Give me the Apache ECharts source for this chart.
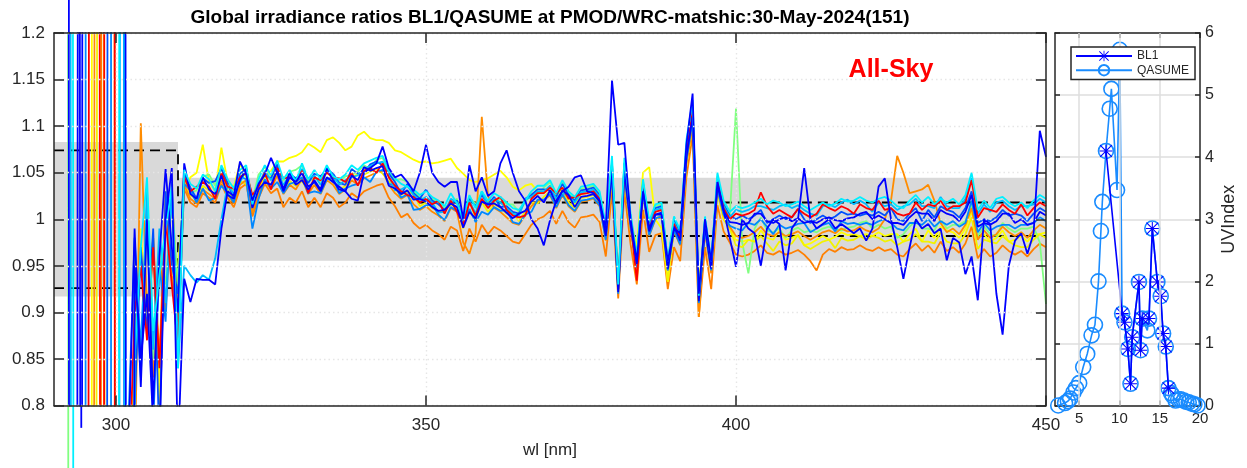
<!DOCTYPE html>
<html>
<head>
<meta charset="utf-8">
<script src="https://cdn.jsdelivr.net/npm/echarts@6.0.0/dist/echarts.min.js"></script>
<style>
  html, body { margin: 0; padding: 0; background: #ffffff; }
  #chart { width: 1247px; height: 468px; }
</style>
</head>
<body>
<div id="chart"></div>
<script>
// Wavelength grid of the ratio spectra, 1 nm steps
const wl = [];
for (let w = 292; w <= 450; w++) wl.push(w);

// Tick positions
const wlTicks = [300, 350, 400, 450];
const wlGrid = [300, 350, 400];
const uvTicks = [5, 10, 15, 20];
const uvGrid = [5, 10, 15];

// BL1/QASUME ratio spectra, one per scan (292..450 nm)
const ratioOrangeA = [
  -3, -3, -3, -3, -3, -3, 3.67, -49.7, -3, -3,
  -3, 0.97, 0.84, 1.00, 0.83, 0.96, 0.90, 1.03, 0.91,
  1.033, 1.018, 1.013, 1.028, 1.023, 1.018, 1.038, 1.023, 1.013, 1.033,
  1.038, 1.003, 1.023, 1.038, 1.028, 1.033, 1.013, 1.023, 1.018, 1.030,
  1.013, 1.023, 1.013, 1.028, 1.023, 1.013, 1.018, 1.028, 1.023, 1.030,
  1.033, 1.036, 1.038, 1.023, 1.014, 1.002, 1.006, 0.996, 0.990, 0.994,
  0.988, 0.984, 0.978, 0.992, 0.988, 0.966, 0.990, 0.976, 0.994, 0.984,
  0.992, 0.988, 0.982, 0.976, 0.974, 0.984, 0.994, 1.000, 1.003, 1.009,
  0.995, 1.009, 0.997, 0.991, 1.002, 1.003, 1.005, 0.997, 0.960, 1.030,
  0.915, 1.030, 0.973, 0.930, 1.010, 0.965, 0.983, 0.985, 0.925, 0.970,
  0.955, 1.045, 1.090, 0.895, 0.970, 0.925, 1.015, 0.987, 0.975,
  0.962, 0.960, 0.962, 0.966, 0.972, 0.964, 0.962, 0.966, 0.962, 0.964,
  0.967, 0.962, 0.955, 0.945, 0.962, 0.968, 0.965, 0.970, 0.967, 0.968,
  0.972, 0.968, 0.966, 0.970, 0.966, 0.968, 0.962, 0.960, 0.968, 0.974,
  0.966, 0.972, 0.964, 0.976, 0.966, 0.970, 0.964, 0.974, 0.992, 0.958,
  0.968, 0.960, 0.964, 0.972, 0.966, 0.962, 0.966, 0.960, 0.968, 0.974,
  0.970
];
const ratioYellowA = [
  -3, -3, -3, -3, -3, 37, -53, -53, -53, -53,
  0.72, 0.86, 0.99, 0.88, 0.97, 0.82, 1.03, 0.95, 0.95,
  1.030, 1.045, 1.050, 1.080, 1.040, 1.030, 1.077, 1.040, 1.035, 1.060,
  1.045, 1.010, 1.040, 1.045, 1.052, 1.062, 1.062, 1.066, 1.068, 1.072,
  1.081, 1.077, 1.072, 1.085, 1.088, 1.082, 1.074, 1.078, 1.090, 1.094,
  1.087, 1.085, 1.085, 1.082, 1.074, 1.072, 1.068, 1.064, 1.061, 1.062,
  1.060, 1.061, 1.063, 1.065, 1.055, 1.049, 1.042, 1.040, 1.042, 1.044,
  1.048, 1.052, 1.045, 1.035, 1.031, 1.036, 1.038, 1.030, 1.028, 1.034,
  1.020, 1.034, 1.022, 1.016, 1.027, 1.028, 1.030, 1.022, 0.985, 1.050,
  0.930, 1.050, 1.000, 0.970, 1.050, 1.056, 1.000, 0.990, 0.933, 0.990,
  0.975, 1.060, 1.100, 0.930, 0.990, 0.945, 1.030, 1.000, 0.990,
  0.978, 0.976, 0.978, 0.976, 0.988, 0.980, 0.978, 0.988, 0.978, 0.980,
  0.983, 0.972, 0.974, 0.978, 0.982, 0.978, 0.981, 0.986, 0.983, 0.984,
  0.982, 0.984, 0.982, 0.986, 0.982, 0.984, 0.984, 0.976, 0.984, 0.990,
  0.976, 0.988, 0.980, 0.992, 0.988, 0.986, 0.980, 0.990, 1.008, 0.980,
  0.984, 0.976, 0.980, 0.988, 0.976, 0.978, 0.982, 0.976, 0.984, 0.984,
  0.986
];
const ratioGreen = [
  4, -6, -6, -6, -6, -6, -6, -6, -6, -6,
  -6, 0.95, 0.86, 0.99, 0.85, 0.97, 0.93, 1.02, 0.93,
  1.051, 1.028, 1.031, 1.046, 1.048, 1.036, 1.056, 1.034, 1.031, 1.043,
  1.056, 1.021, 1.048, 1.056, 1.046, 1.052, 1.041, 1.051, 1.053, 1.058,
  1.041, 1.044, 1.041, 1.056, 1.044, 1.041, 1.046, 1.048, 1.051, 1.058,
  1.054, 1.064, 1.066, 1.051, 1.042, 1.043, 1.040, 1.030, 1.024, 1.020,
  1.022, 1.018, 1.012, 1.018, 1.022, 1.000, 1.024, 1.016, 1.028, 1.018,
  1.018, 1.022, 1.016, 1.016, 1.008, 1.018, 1.028, 1.026, 1.034, 1.040,
  1.026, 1.040, 1.028, 1.022, 1.033, 1.034, 1.036, 1.028, 0.991, 1.061,
  0.930, 1.061, 1.004, 0.960, 1.041, 0.996, 1.014, 1.016, 0.955, 1.001,
  0.986, 1.076, 1.121, 0.921, 1.001, 0.955, 1.046, 1.018, 1.004,
  1.119, 0.975, 0.942, 0.990, 1.002, 0.988, 0.986, 0.990, 0.980, 0.988,
  0.991, 0.986, 0.988, 0.986, 0.990, 0.992, 0.989, 0.988, 0.991, 0.992,
  0.996, 0.998, 0.990, 0.994, 0.990, 0.992, 0.980, 0.984, 0.992, 0.998,
  0.990, 0.990, 0.988, 1.000, 0.990, 0.994, 0.994, 0.998, 1.016, 0.982,
  0.992, 0.984, 0.982, 0.996, 0.990, 0.986, 0.990, 0.990, 0.992, 0.975,
  0.909
];
const ratioYellowB = [
  -3, -3, -3, -3, -3, 1.44, 1.44, -2.96, -3, -3,
  0.60, 0.83, 0.97, 0.90, 0.98, 0.79, 1.00, 0.96, 0.90,
  1.041, 1.026, 1.021, 1.036, 1.031, 1.026, 1.053, 1.031, 1.021, 1.041,
  1.038, 1.011, 1.031, 1.046, 1.043, 1.051, 1.031, 1.041, 1.036, 1.041,
  1.031, 1.041, 1.031, 1.053, 1.041, 1.031, 1.036, 1.046, 1.048, 1.048,
  1.051, 1.054, 1.049, 1.041, 1.032, 1.026, 1.030, 1.027, 1.014, 1.018,
  1.012, 1.008, 1.009, 1.016, 1.012, 0.990, 1.021, 1.000, 1.018, 1.008,
  1.016, 1.012, 1.006, 1.007, 0.998, 1.008, 1.018, 1.017, 1.024, 1.030,
  1.016, 1.030, 1.018, 1.012, 1.023, 1.024, 1.026, 1.018, 0.981, 1.045,
  0.935, 1.045, 0.990, 0.945, 1.030, 0.985, 1.000, 1.005, 0.933, 0.990,
  0.975, 1.060, 1.100, 0.930, 0.985, 0.950, 1.030, 1.000, 0.990,
  0.972, 0.970, 0.978, 0.976, 0.982, 0.974, 0.966, 0.976, 0.972, 0.974,
  0.983, 0.972, 0.968, 0.972, 0.976, 0.978, 0.969, 0.980, 0.977, 0.978,
  0.982, 0.978, 0.982, 0.980, 0.976, 0.978, 0.972, 0.976, 0.978, 0.984,
  0.976, 0.976, 0.974, 0.986, 0.976, 0.974, 0.974, 0.984, 1.002, 0.968,
  0.978, 0.976, 0.974, 0.982, 0.976, 0.972, 0.970, 0.970, 0.978, 0.984,
  0.980
];
const ratioOrangeB = [
  -3, -3, -3, -3, -3, 5, 5, 5, 0, 0,
  0.60, 0.72, 1.103, 0.90, 0.98, 0.85, 1.02, 0.94, 0.89,
  1.037, 1.022, 1.017, 1.032, 1.027, 1.022, 1.042, 1.027, 1.017, 1.037,
  1.042, 1.007, 1.027, 1.042, 1.032, 1.047, 1.027, 1.037, 1.032, 1.044,
  1.027, 1.037, 1.027, 1.042, 1.037, 1.027, 1.032, 1.042, 1.037, 1.044,
  1.047, 1.050, 1.052, 1.037, 1.028, 1.022, 1.026, 1.016, 1.010, 1.014,
  1.008, 1.004, 0.998, 1.012, 1.008, 0.975, 0.963, 0.985, 1.110, 1.025,
  1.012, 1.008, 1.002, 0.996, 0.994, 1.004, 1.014, 1.020, 1.020, 1.026,
  1.012, 1.026, 1.014, 1.008, 1.019, 1.020, 1.022, 1.014, 0.977, 1.045,
  0.925, 1.045, 0.990, 0.950, 1.027, 0.982, 1.000, 1.002, 0.945, 0.987,
  0.972, 1.060, 1.100, 0.895, 0.987, 0.942, 1.032, 1.004, 0.992,
  0.982, 0.980, 0.982, 0.986, 0.992, 0.984, 0.982, 0.986, 0.982, 0.984,
  0.987, 0.982, 0.978, 0.982, 0.986, 0.988, 0.985, 0.990, 0.987, 0.988,
  0.992, 0.988, 0.986, 0.990, 1.000, 1.020, 1.068, 1.050, 1.028, 1.030,
  1.032, 1.037, 1.020, 0.996, 0.986, 0.990, 0.984, 0.994, 1.012, 0.978,
  0.988, 0.980, 0.984, 0.992, 0.986, 0.982, 0.986, 0.980, 0.988, 0.994,
  0.990
];
const ratioLightBlue = [
  -4, -4, -4, -4, 46, 46, 46, 46, -179, -179,
  0.78, 0.98, 0.86, 1.02, 0.78, 0.95, 0.89, 1.04, 0.86,
  1.038, 1.031, 1.018, 1.033, 1.020, 1.023, 1.036, 1.028, 1.018, 1.046,
  1.043, 0.990, 1.022, 1.043, 1.033, 1.040, 1.028, 1.038, 1.040, 1.045,
  1.028, 1.030, 1.028, 1.043, 1.045, 1.028, 1.033, 1.036, 1.038, 1.045,
  1.040, 1.051, 1.053, 1.038, 1.036, 1.023, 1.027, 1.010, 1.011, 1.015,
  1.016, 1.005, 0.999, 1.013, 1.009, 0.994, 1.011, 0.997, 1.008, 1.005,
  1.013, 1.009, 1.010, 0.997, 0.995, 1.005, 1.008, 1.021, 1.021, 1.027,
  1.013, 1.027, 1.015, 1.009, 1.020, 1.021, 1.023, 1.015, 0.978, 1.048,
  0.920, 1.048, 0.991, 0.948, 1.028, 0.983, 1.001, 1.003, 0.945, 0.988,
  0.973, 1.063, 1.106, 0.910, 0.988, 0.945, 1.033, 1.005, 0.993,
  0.990, 0.988, 0.996, 0.994, 1.000, 0.992, 0.984, 0.994, 0.990, 0.992,
  0.995, 0.996, 0.986, 0.990, 0.994, 0.996, 0.987, 0.998, 0.995, 0.996,
  0.994, 0.996, 0.994, 0.998, 1.000, 0.996, 0.990, 0.988, 0.996, 0.996,
  0.994, 1.000, 0.992, 0.998, 0.994, 0.998, 0.992, 0.996, 1.020, 0.986,
  0.996, 0.988, 0.992, 0.994, 0.994, 0.990, 0.994, 0.994, 0.996, 1.002,
  0.998
];
const ratioBlueC = [
  -4, -4, -4, -4, -4, -4, -4, 4.33, 4.33, 4.33,
  -6.77, 0.80, 0.97, 0.88, 0.99, 0.76, 1.03, 0.95, 0.92,
  1.049, 1.034, 1.022, 1.044, 1.039, 1.041, 1.054, 1.039, 1.022, 1.049,
  1.054, 1.019, 1.039, 1.047, 1.044, 1.059, 1.032, 1.049, 1.044, 1.049,
  1.039, 1.049, 1.046, 1.054, 1.049, 1.039, 1.037, 1.054, 1.049, 1.050,
  1.059, 1.062, 1.058, 1.049, 1.040, 1.027, 1.038, 1.028, 1.022, 1.032,
  1.020, 1.016, 1.010, 1.017, 1.020, 0.998, 1.022, 1.014, 1.026, 1.016,
  1.024, 1.013, 1.014, 1.008, 1.006, 1.022, 1.026, 1.032, 1.032, 1.031,
  1.024, 1.038, 1.026, 1.020, 1.031, 1.032, 1.034, 1.026, 0.989, 1.060,
  0.928, 1.060, 1.002, 0.958, 1.039, 0.994, 1.012, 1.014, 0.953, 0.999,
  0.984, 1.076, 1.120, 0.917, 0.999, 0.953, 1.044, 1.016, 1.004,
  1.000, 1.004, 1.000, 1.004, 1.010, 0.996, 1.000, 1.004, 1.000, 1.002,
  1.011, 1.000, 0.996, 1.000, 1.004, 1.000, 1.003, 1.008, 1.005, 1.006,
  1.004, 1.006, 1.004, 1.008, 1.004, 1.012, 1.000, 0.998, 1.006, 1.012,
  0.998, 1.010, 1.002, 1.014, 1.010, 1.008, 1.002, 1.012, 1.030, 0.996,
  1.000, 0.998, 1.002, 1.010, 1.004, 1.006, 1.004, 0.998, 1.006, 1.012,
  1.008
];
const ratioSky = [
  8, -2, -2, -2, -2, -2, -2, -2, -2, 3,
  -3, 0.94, 0.83, 1.03, 0.86, 0.99, 0.91, 1.03, 0.84,
  0.950, 0.940, 0.932, 0.940, 0.935, 0.958, 1.000, 1.037, 1.027, 1.040,
  1.052, 1.017, 1.037, 1.052, 1.042, 1.050, 1.037, 1.047, 1.042, 1.054,
  1.044, 1.047, 1.037, 1.052, 1.047, 1.037, 1.042, 1.045, 1.047, 1.054,
  1.057, 1.060, 1.062, 1.047, 1.031, 1.032, 1.036, 1.026, 1.020, 1.024,
  1.018, 1.007, 1.008, 1.022, 1.018, 0.996, 1.020, 1.006, 1.030, 1.014,
  1.022, 1.018, 1.012, 1.006, 1.004, 1.021, 1.024, 1.030, 1.030, 1.036,
  1.022, 1.029, 1.024, 1.018, 1.029, 1.030, 1.032, 1.024, 0.987, 1.058,
  0.926, 1.058, 1.000, 0.957, 1.037, 0.992, 1.010, 1.012, 0.951, 0.997,
  0.982, 1.073, 1.118, 0.916, 0.997, 0.951, 1.042, 1.014, 1.002,
  1.010, 1.008, 1.010, 1.014, 1.014, 1.012, 1.010, 1.014, 1.016, 1.012,
  1.015, 1.010, 1.006, 1.004, 1.014, 1.016, 1.013, 1.018, 1.021, 1.016,
  1.020, 1.016, 1.008, 1.018, 1.014, 1.016, 1.010, 1.014, 1.016, 1.022,
  1.014, 1.014, 1.012, 1.024, 1.014, 1.012, 1.012, 1.022, 1.044, 1.006,
  1.016, 1.008, 1.018, 1.020, 1.014, 1.010, 1.014, 1.014, 1.016, 1.022,
  1.018
];
const ratioRed = [
  -3, -3, -3, -3, 3.67, 3.67, -3, 37, -8, -8,
  0.70, 0.90, 0.95, 0.87, 0.97, 0.84, 1.00, 0.93, 0.863,
  1.045, 1.030, 1.035, 1.040, 1.035, 1.022, 1.050, 1.035, 1.033, 1.045,
  1.050, 1.026, 1.035, 1.050, 1.032, 1.055, 1.044, 1.045, 1.040, 1.052,
  1.028, 1.045, 1.042, 1.050, 1.045, 1.044, 1.040, 1.050, 1.036, 1.052,
  1.055, 1.050, 1.060, 1.045, 1.036, 1.030, 1.026, 1.024, 1.018, 1.022,
  1.016, 1.020, 1.006, 1.020, 1.008, 0.994, 1.018, 1.004, 1.022, 1.012,
  1.020, 1.024, 1.010, 1.004, 1.002, 1.004, 1.022, 1.028, 1.028, 1.034,
  1.028, 1.034, 1.022, 1.024, 1.027, 1.028, 1.030, 1.022, 0.985, 1.055,
  0.925, 1.055, 0.998, 0.934, 1.035, 0.990, 1.008, 1.010, 0.950, 0.995,
  0.980, 1.070, 1.115, 0.915, 0.995, 0.950, 1.040, 1.012, 1.000,
  1.006, 1.004, 1.006, 1.010, 1.029, 1.014, 1.006, 1.010, 1.006, 1.002,
  1.011, 1.006, 1.002, 1.006, 1.016, 1.012, 1.009, 1.014, 1.011, 1.006,
  1.016, 1.012, 1.010, 1.020, 1.010, 1.012, 1.006, 1.004, 1.006, 1.018,
  1.010, 1.016, 1.014, 1.020, 1.010, 1.014, 1.014, 1.018, 1.042, 1.002,
  1.012, 1.010, 1.008, 1.016, 1.010, 1.006, 1.016, 1.004, 1.012, 1.018,
  1.014
];
const ratioBlueB = [
  -4, -4, 2.25, -4, -4, -4, -4, -4, -4, -4,
  0.75, 0.99, 0.82, 1.00, 0.80, 0.96, 1.054, 0.97, 0.90,
  1.060, 1.027, 1.022, 1.045, 1.032, 1.027, 1.047, 1.026, 1.022, 1.042,
  1.054, 1.012, 1.032, 1.040, 1.037, 1.052, 1.032, 1.050, 1.037, 1.042,
  1.032, 1.042, 1.032, 1.055, 1.042, 1.032, 1.030, 1.047, 1.042, 1.056,
  1.052, 1.055, 1.057, 1.036, 1.033, 1.027, 1.031, 1.021, 1.022, 1.019,
  1.013, 1.009, 1.010, 1.017, 1.013, 0.991, 1.008, 1.001, 1.019, 1.016,
  1.017, 1.013, 1.007, 1.001, 1.006, 1.009, 1.019, 1.025, 1.018, 1.031,
  1.017, 1.031, 1.026, 1.013, 1.024, 1.025, 1.027, 1.019, 0.982, 1.052,
  0.922, 1.052, 0.995, 0.952, 1.032, 0.987, 1.005, 1.007, 0.947, 0.992,
  0.977, 1.067, 1.110, 0.912, 0.992, 0.947, 1.037, 1.009, 0.997,
  0.996, 0.994, 0.996, 1.006, 1.006, 0.998, 0.996, 1.000, 1.002, 0.998,
  1.001, 0.996, 0.998, 0.996, 1.000, 1.002, 0.999, 0.998, 1.001, 1.002,
  1.006, 1.008, 1.000, 1.004, 1.000, 0.996, 0.996, 0.994, 1.002, 1.008,
  1.006, 1.006, 0.998, 1.010, 1.006, 1.004, 0.998, 1.008, 1.026, 0.992,
  0.996, 0.994, 0.998, 1.006, 1.006, 0.996, 1.000, 0.994, 0.996, 1.008,
  1.004
];
const ratioCyan = [
  1.5, 1.5, -4, -4, -4, -4, -4, -4, -4, 6,
  -4, 0.85, 0.97, 1.045, 0.88, 0.94, 0.99, 1.035, 0.84,
  1.053, 1.038, 1.033, 1.048, 1.043, 1.030, 1.058, 1.043, 1.033, 1.053,
  1.058, 1.016, 1.043, 1.058, 1.048, 1.063, 1.043, 1.053, 1.040, 1.060,
  1.043, 1.053, 1.043, 1.058, 1.046, 1.043, 1.048, 1.058, 1.053, 1.060,
  1.063, 1.066, 1.068, 1.053, 1.044, 1.038, 1.035, 1.032, 1.026, 1.030,
  1.024, 1.020, 1.014, 1.028, 1.017, 1.002, 1.026, 1.012, 1.030, 1.020,
  1.028, 1.024, 1.018, 1.012, 1.010, 1.020, 1.030, 1.036, 1.036, 1.042,
  1.028, 1.042, 1.030, 1.024, 1.035, 1.036, 1.038, 1.030, 0.993, 1.068,
  0.930, 1.066, 1.006, 0.960, 1.043, 0.998, 1.016, 1.018, 0.955, 1.003,
  0.988, 1.085, 1.128, 0.918, 1.003, 0.955, 1.050, 1.020, 1.008,
  1.014, 1.012, 1.014, 1.018, 1.022, 1.016, 1.020, 1.018, 1.014, 1.016,
  1.019, 1.014, 1.010, 1.014, 1.018, 1.014, 1.017, 1.022, 1.019, 1.020,
  1.024, 1.020, 1.018, 1.022, 1.024, 1.020, 1.014, 1.012, 1.020, 1.026,
  1.018, 1.024, 1.016, 1.022, 1.018, 1.022, 1.016, 1.026, 1.050, 1.010,
  1.020, 1.012, 1.022, 1.024, 1.018, 1.014, 1.018, 1.012, 1.020, 1.026,
  1.022
];
const ratioBlueA = [
  5, -5, -5, 6, 6, 6, 6, 6, 6, 6,
  -3, 0.95, 0.85, 0.92, 0.78, 0.76, 1.00, 1.055, 0.75,
  0.936, 0.911, 0.936, 0.935, 0.935, 0.930, 0.990, 1.030, 1.025, 1.062,
  1.048, 1.020, 1.038, 1.048, 1.066, 1.050, 1.030, 1.045, 1.040, 1.050,
  1.035, 1.040, 1.030, 1.045, 1.040, 1.035, 1.030, 1.022, 1.020, 1.050,
  1.055, 1.060, 1.078, 1.055, 1.045, 1.048, 1.040, 1.030, 1.050, 1.080,
  1.050, 1.040, 1.035, 1.040, 1.040, 1.000, 1.058, 1.030, 1.045, 1.025,
  1.030, 1.060, 1.074, 1.050, 1.030, 1.020, 1.000, 0.990, 0.972, 0.999,
  1.020, 1.030, 1.035, 1.045, 1.047, 1.030, 1.028, 1.020, 0.990, 1.149,
  1.080, 1.082, 1.000, 0.955, 1.030, 0.990, 1.005, 1.005, 0.955, 0.990,
  0.985, 1.080, 1.135, 0.920, 1.000, 0.955, 1.040, 1.010, 0.980,
  0.949, 1.000, 0.990, 0.985, 0.950, 0.990, 1.000, 0.995, 0.945, 0.990,
  1.000, 1.055, 1.000, 0.990, 0.995, 1.000, 0.990, 0.995, 0.990, 0.985,
  0.990, 0.977, 0.990, 1.035, 1.044, 1.000, 0.970, 0.936, 0.970, 1.000,
  0.990, 0.995, 0.985, 0.990, 0.956, 0.980, 0.975, 0.941, 0.960, 0.913,
  1.000, 0.995, 0.920, 0.876, 0.950, 0.977, 0.985, 0.963, 0.985, 1.095,
  1.067
];

// Parts of the short-wave spikes that run past the plot frame
const overrunBlueTop = [[292.4, 1.2], [292.4, 1.25]];
const overrunBlueLow = [[294.4, 0.8], [294.4, 0.776]];
const overrunGreen = [[292.3, 0.8], [292.3, 0.72]];
const overrunCyan = [[293.1, 0.8], [293.1, 0.72]];

// Tolerance band and limits
const bandEdges = [290, 310, 450];
const bandLow = [0.917, 0.9555];
const bandHigh = [1.083, 1.0445];
const limitUpper = [[290, 1.074], [310, 1.074], [310, 1.018], [450, 1.018]];
const limitLower = [[290, 0.926], [310, 0.926], [310, 0.982], [450, 0.982]];

// UV index per scan (hour of day)
const uvTimeQasume = [2.4, 3.25, 3.6, 3.875, 4.29, 4.6, 5.0, 5.5, 6.0, 6.54, 6.96, 7.4, 7.7, 7.875,
  8.33, 8.79, 9.0, 9.7, 10.04, 10.33, 10.625, 11.04, 11.375, 11.58, 12.42, 12.625, 12.83, 13.46,
  13.67, 14.08, 14.71, 15.125, 15.42, 15.75, 16.08, 16.4, 16.6, 16.97, 17.3, 17.6, 18.0, 18.3,
  18.6, 19.0, 19.3, 19.7];
const uvQasume = [0.0, 0.04, 0.07, 0.11, 0.21, 0.28, 0.36, 0.62, 0.83, 1.13, 1.3, 2.0, 2.81, 3.28,
  4.1, 4.78, 5.1, 3.47, 5.73, 1.48, 1.34, 0.91, 0.35, 1.1, 1.99, 0.89, 1.4, 1.21,
  1.4, 2.85, 1.99, 1.76, 1.16, 0.95, 0.28, 0.2, 0.16, 0.08, 0.1, 0.1, 0.08, 0.06,
  0.05, 0.03, 0.02, 0.0];
const uvTimeBL1 = [8.33, 10.33, 10.625, 11.04, 11.375, 11.58, 12.42, 12.625, 12.83, 13.67, 14.08,
  14.71, 15.125, 15.42, 15.75, 16.08];
const uvBL1 = [4.1, 1.48, 1.34, 0.91, 0.35, 1.1, 1.99, 0.89, 1.4, 1.4, 2.85, 1.99, 1.76, 1.16, 0.95, 0.28];

const FONT = '"Liberation Sans", Arial, Helvetica, sans-serif';
const INK = '#262626';
const starPath = 'path://M9.2 0H10.8V20H9.2Z M0 9.2H20V10.8H0Z M1.6 0.4L19.6 18.4L18.4 19.6L0.4 1.6Z M18.4 0.4L19.6 1.6L1.6 19.6L0.4 18.4Z';

const spectra = [
  ['s01', ratioOrangeA, '#ff8000'],
  ['s02', ratioYellowA, '#ffff00'],
  ['s03', ratioGreen, '#80ff80'],
  ['s04', ratioYellowB, '#f2f200'],
  ['s05', ratioOrangeB, '#ff8c00'],
  ['s06', ratioLightBlue, '#0088ff'],
  ['s07', ratioBlueC, '#0050ff'],
  ['s08', ratioSky, '#00bbff'],
  ['s09', ratioRed, '#ff0000'],
  ['s10', ratioBlueB, '#0000ff'],
  ['s11', ratioCyan, '#00f0ff'],
  ['s12', ratioBlueA, '#0000ff']
];

const series = [];

// grey tolerance band
series.push({
  type: 'line', name: 'band', xAxisIndex: 0, yAxisIndex: 0, z: 1, silent: true,
  data: [[bandEdges[0], 1]], showSymbol: false, lineStyle: { opacity: 0 },
  markArea: {
    silent: true,
    itemStyle: { color: '#d9d9d9' },
    data: [
      [{ coord: [bandEdges[0], bandLow[0]] }, { coord: [bandEdges[1], bandHigh[0]] }],
      [{ coord: [bandEdges[1], bandLow[1]] }, { coord: [bandEdges[2], bandHigh[1]] }]
    ]
  }
});

// dashed limits
[limitUpper, limitLower].forEach((d, i) => series.push({
  type: 'line', name: 'lim' + i, xAxisIndex: 0, yAxisIndex: 0, z: 2, silent: true,
  data: d, showSymbol: false, symbol: 'none',
  lineStyle: { color: '#000000', width: 1.8, type: [10, 6] }
}));

// ratio spectra
spectra.forEach(([name, vals, color]) => series.push({
  type: 'line', name, xAxisIndex: 0, yAxisIndex: 0, z: 2, silent: true,
  data: wl.map((w, i) => [w, vals[i]]),
  showSymbol: false, symbol: 'none',
  lineStyle: { color, width: 1.8 }, itemStyle: { color }
}));

// spike pieces drawn beyond the frame
[[overrunBlueTop, '#0000ff'], [overrunBlueLow, '#0000ff'], [overrunGreen, '#80ff80'], [overrunCyan, '#00f0ff']]
  .forEach(([d, color], i) => series.push({
    type: 'line', name: 'ov' + i, xAxisIndex: 0, yAxisIndex: 0, z: 2, silent: true, clip: false,
    data: d, showSymbol: false, symbol: 'none', lineStyle: { color, width: 1.8 }
  }));

// dotted vertical grid of the ratio plot, drawn over the data
series.push({
  type: 'line', name: 'gridWl', xAxisIndex: 0, yAxisIndex: 0, z: 5, silent: true,
  data: [[wlGrid[0], 1]], showSymbol: false, lineStyle: { opacity: 0 },
  markLine: {
    silent: true, symbol: ['none', 'none'], label: { show: false }, animation: false,
    lineStyle: { color: '#e6e6e6', width: 1.4, type: [1.5, 3] },
    data: wlGrid.map(v => ({ xAxis: v }))
  }
});

// vertical grid of the UV panel
series.push({
  type: 'line', name: 'gridUv', xAxisIndex: 2, yAxisIndex: 2, z: 1, silent: true,
  data: [[uvGrid[0], 0]], showSymbol: false, lineStyle: { opacity: 0 },
  markLine: {
    silent: true, symbol: ['none', 'none'], label: { show: false }, animation: false,
    lineStyle: { color: '#dedede', width: 1.5, type: 'solid' },
    data: uvGrid.map(v => ({ xAxis: v }))
  }
});

// UV index panel
series.push({
  type: 'line', name: 'QASUME', xAxisIndex: 2, yAxisIndex: 2, z: 2,
  data: uvTimeQasume.map((t, i) => [t, uvQasume[i]]),
  symbol: 'circle', symbolSize: 15, showSymbol: true,
  lineStyle: { color: '#1a8cff', width: 1.6 },
  itemStyle: { color: 'rgba(0,0,0,0)', borderColor: '#1a8cff', borderWidth: 1.6 }
});
series.push({
  type: 'line', name: 'BL1', xAxisIndex: 2, yAxisIndex: 2, z: 3,
  data: uvTimeBL1.map((t, i) => [t, uvBL1[i]]),
  symbol: starPath, symbolSize: 13, showSymbol: true,
  lineStyle: { color: '#0000ff', width: 1.6 },
  itemStyle: { color: '#0000ff', borderWidth: 0 }
});

const frameLine = { show: true, onZero: false, lineStyle: { color: INK, width: 1.5 } };
const dotted = { show: true, lineStyle: { color: '#e6e6e6', width: 1.4, type: [1.5, 3] } };

const option = {
  backgroundColor: '#ffffff',
  animation: false,
  textStyle: { fontFamily: FONT },
  grid: [
    { left: 54, top: 33, width: 992, height: 372.5, containLabel: false },
    { left: 1055, top: 33, width: 145, height: 372.5, containLabel: false }
  ],
  legend: {
    data: ['BL1', 'QASUME'],
    orient: 'vertical',
    left: 1071, top: 47, z: 10,
    itemWidth: 56, itemHeight: 13, itemGap: 2,
    padding: [3, 6, 3, 4],
    backgroundColor: '#ffffff',
    borderColor: INK, borderWidth: 1.5, borderRadius: 0,
    textStyle: { fontSize: 12, color: INK, fontFamily: FONT },
    selectedMode: false
  },
  xAxis: [
    {
      gridIndex: 0, type: 'value', min: 290, max: 450, position: 'bottom', z: 5,
      axisLine: frameLine,
      axisTick: { show: true, inside: true, length: 10, customValues: wlTicks, lineStyle: { color: INK, width: 1.5 } },
      axisLabel: { show: true, customValues: wlTicks, fontSize: 17, color: INK, margin: 11, fontFamily: FONT },
      splitLine: { show: false },
      name: 'wl [nm]', nameLocation: 'middle', nameGap: 36,
      nameTextStyle: { fontSize: 17, color: INK, fontFamily: FONT }
    },
    {
      gridIndex: 0, type: 'value', min: 290, max: 450, position: 'top', z: 5,
      axisLine: frameLine,
      axisTick: { show: true, inside: true, length: 10, customValues: wlTicks, lineStyle: { color: INK, width: 1.5 } },
      axisLabel: { show: false }, splitLine: { show: false }
    },
    {
      gridIndex: 1, type: 'value', min: 2, max: 20, position: 'bottom',
      axisLine: frameLine,
      axisTick: { show: true, inside: true, length: 5, customValues: uvTicks, lineStyle: { color: INK, width: 1.5 } },
      axisLabel: { show: true, customValues: uvTicks, fontSize: 15, color: INK, margin: 6, fontFamily: FONT },
      splitLine: { show: false }
    },
    {
      gridIndex: 1, type: 'value', min: 2, max: 20, position: 'top',
      axisLine: frameLine,
      axisTick: { show: true, inside: true, length: 5, customValues: uvTicks, lineStyle: { color: INK, width: 1.5 } },
      axisLabel: { show: false }, splitLine: { show: false }
    }
  ],
  yAxis: [
    {
      gridIndex: 0, type: 'value', min: 0.8, max: 1.2, interval: 0.05, position: 'left', z: 5,
      axisLine: frameLine,
      axisTick: { show: true, inside: true, length: 10, lineStyle: { color: INK, width: 1.5 } },
      axisLabel: { show: true, fontSize: 17, color: INK, margin: 9, fontFamily: FONT },
      splitLine: dotted
    },
    {
      gridIndex: 0, type: 'value', min: 0.8, max: 1.2, interval: 0.05, position: 'right', z: 5,
      axisLine: frameLine,
      axisTick: { show: true, inside: true, length: 10, lineStyle: { color: INK, width: 1.5 } },
      axisLabel: { show: false }, splitLine: { show: false }
    },
    {
      gridIndex: 1, type: 'value', min: 0, max: 6, interval: 1, position: 'right',
      axisLine: frameLine,
      axisTick: { show: true, inside: true, length: 5, lineStyle: { color: INK, width: 1.5 } },
      axisLabel: { show: true, fontSize: 16, color: INK, margin: 5, fontFamily: FONT },
      splitLine: { show: true, lineStyle: { color: '#dedede', width: 1.5 } },
      name: 'UVIndex', nameLocation: 'middle', nameGap: 20, nameRotate: 90,
      nameTextStyle: { fontSize: 18, color: INK, fontFamily: FONT }
    },
    {
      gridIndex: 1, type: 'value', min: 0, max: 6, interval: 1, position: 'left',
      axisLine: frameLine,
      axisTick: { show: true, inside: true, length: 5, lineStyle: { color: INK, width: 1.5 } },
      axisLabel: { show: false }, splitLine: { show: false }
    }
  ],
  graphic: [
    {
      type: 'text', x: 550, y: 18, z: 10,
      style: {
        text: 'Global irradiance ratios BL1/QASUME at PMOD/WRC-matshic:30-May-2024(151)',
        fill: '#000000', fontSize: 19, fontWeight: 'bold', fontFamily: FONT,
        textAlign: 'center', textVerticalAlign: 'middle'
      }
    },
    {
      type: 'text', x: 891, y: 70, z: 10,
      style: {
        text: 'All-Sky', fill: '#ff0000', fontSize: 25, fontWeight: 'bold', fontFamily: FONT,
        textAlign: 'center', textVerticalAlign: 'middle'
      }
    }
  ],
  series
};

const chart = echarts.init(document.getElementById('chart'), null, { renderer: 'canvas' });
chart.setOption(option);
</script>
</body>
</html>
